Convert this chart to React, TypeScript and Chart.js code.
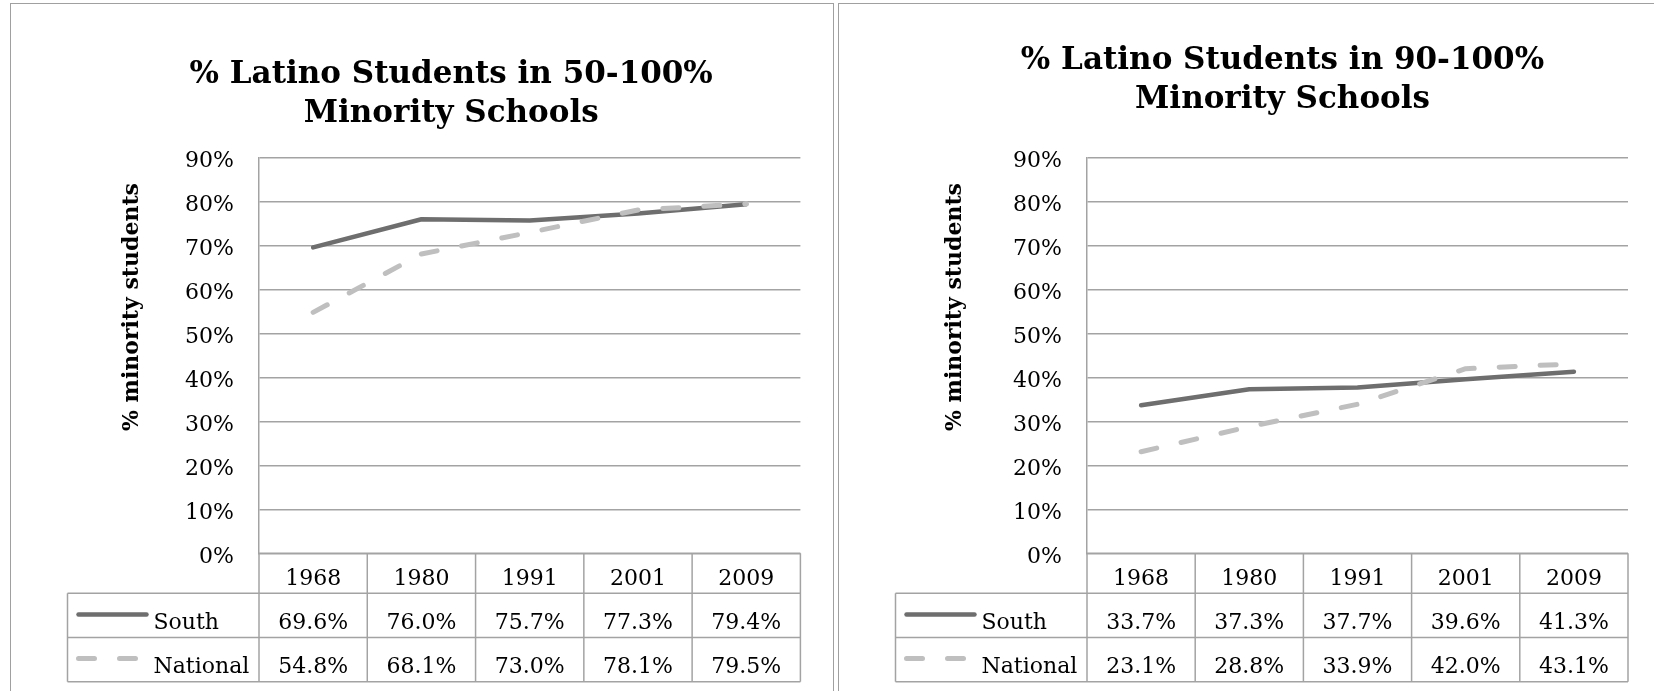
import React, { useEffect, useRef } from 'react';
import { Chart, registerables } from 'chart.js';

Chart.register(...registerables);

// ---------- data ----------
const years = ['1968', '1980', '1991', '2001', '2009'];
const seriesNames = ['South', 'National'];
const south50 = [69.6, 76.0, 75.7, 77.3, 79.4];
const national50 = [54.8, 68.1, 73.0, 78.1, 79.5];
const south90 = [33.7, 37.3, 37.7, 39.6, 41.3];
const national90 = [23.1, 28.8, 33.9, 42.0, 43.1];
const title50 = ['% Latino Students in 50-100%', 'Minority Schools'];
const title90 = ['% Latino Students in 90-100%', 'Minority Schools'];
const yAxisTitle = '% minority students';
const yMin = 0;
const yMax = 90;
const yStep = 10;

// ---------- styles ----------
const FONT = '"DejaVu Serif", "Liberation Serif", serif';
const GRID = '#a3a3a3';
const SOUTH_COLOR = '#6e6e6e';
const NATIONAL_COLOR = '#bfbfbf';

const axisTitlePlugin = {
  id: 'axisTitle',
  afterDraw(chart: any, _args: any, opts: any) {
    const ctx = chart.ctx;
    ctx.save();
    ctx.translate(opts.x, opts.y);
    ctx.rotate(-Math.PI / 2);
    ctx.font = `bold 22px ${FONT}`;
    ctx.fillStyle = '#000';
    ctx.textAlign = 'center';
    ctx.textBaseline = 'middle';
    ctx.fillText(opts.text, 0, 0);
    ctx.restore();
  },
};

const dataTablePlugin = {
  id: 'dataTable',
  afterDraw(chart: any, _args: any, opts: any) {
    const { ctx, chartArea: ca } = chart;
    const labels: string[] = chart.data.labels;
    const n = labels.length;
    const colW = (ca.right - ca.left) / n;
    const top = ca.bottom;
    const rb = [top + opts.headerH, top + opts.headerH + opts.rowH, top + opts.headerH + 2 * opts.rowH];
    const tableLeft = ca.left - opts.legendW;
    ctx.save();
    ctx.strokeStyle = GRID;
    ctx.lineWidth = 1.5;
    const line = (x1: number, y1: number, x2: number, y2: number) => {
      ctx.beginPath();
      ctx.moveTo(x1, y1);
      ctx.lineTo(x2, y2);
      ctx.stroke();
    };
    line(ca.left, top, ca.right, top);
    line(tableLeft, rb[0], ca.right, rb[0]);
    line(tableLeft, rb[1], ca.right, rb[1]);
    line(tableLeft, rb[2], ca.right, rb[2]);
    line(tableLeft, rb[0], tableLeft, rb[2]);
    for (let k = 0; k <= n; k++) {
      const x = ca.left + k * colW;
      line(x, top, x, rb[2]);
    }
    ctx.fillStyle = '#000';
    ctx.font = `22px ${FONT}`;
    ctx.textBaseline = 'alphabetic';
    ctx.textAlign = 'center';
    labels.forEach((lab, i) => {
      const cx = chart.scales.x.getPixelForValue(i);
      ctx.fillText(lab, cx, rb[0] - 8.5);
    });
    chart.data.datasets.forEach((ds: any, r: number) => {
      const rowBottom = rb[r + 1];
      const rowMid = rowBottom - opts.rowH / 2;
      ds.data.forEach((v: number, i: number) => {
        const cx = chart.scales.x.getPixelForValue(i);
        ctx.fillStyle = '#000';
        ctx.textAlign = 'center';
        ctx.fillText(v.toFixed(1) + '%', cx, rowBottom - 9);
      });
      // legend key
      ctx.save();
      ctx.strokeStyle = ds.borderColor;
      ctx.lineWidth = ds.borderWidth;
      ctx.lineCap = 'round';
      ctx.setLineDash(ds.borderDash || []);
      ctx.beginPath();
      ctx.moveTo(tableLeft + 11, rowMid - 1);
      ctx.lineTo(tableLeft + 79, rowMid - 1);
      ctx.stroke();
      ctx.restore();
      ctx.fillStyle = '#000';
      ctx.textAlign = 'left';
      ctx.fillText(ds.label, tableLeft + 86, rowBottom - 9);
    });
    ctx.restore();
  },
};

type PanelProps = {
  left: number;
  width: number;
  title: string[];
  south: number[];
  national: number[];
  padLeft: number;
  padRight: number;
  yWidth: number;
  titleTop: number;
  titleBottom: number;
  axisTitleX: number;
};

function Panel(p: PanelProps) {
  const ref = useRef<HTMLCanvasElement | null>(null);
  useEffect(() => {
    if (!ref.current) return;
    const chart = new Chart(ref.current, {
      type: 'line',
      data: {
        labels: years,
        datasets: [
          {
            label: seriesNames[0],
            data: p.south,
            borderColor: SOUTH_COLOR,
            borderWidth: 4.5,
            pointRadius: 0,
            borderCapStyle: 'round',
            borderJoinStyle: 'round',
            tension: 0,
            order: 1,
          },
          {
            label: seriesNames[1],
            data: p.national,
            borderColor: NATIONAL_COLOR,
            borderWidth: 5,
            borderDash: [16, 25],
            pointRadius: 0,
            borderCapStyle: 'round',
            borderJoinStyle: 'round',
            tension: 0,
            order: 0,
          },
        ],
      },
      options: {
        responsive: false,
        animation: false,
        devicePixelRatio: 1,
        layout: { padding: { left: p.padLeft, right: p.padRight, top: 0, bottom: 137.7 } },
        scales: {
          x: { type: 'category', display: false, offset: true },
          y: {
            min: yMin,
            max: yMax,
            ticks: {
              stepSize: yStep,
              callback: (v: any) => v + '%',
              font: { family: FONT, size: 22 },
              color: '#000',
              padding: 25,
              labelOffset: 4,
            },
            grid: { color: GRID, lineWidth: 1.5, drawTicks: false },
            border: { display: true, color: GRID, width: 1.5 },
            afterFit: (s: any) => {
              s.width = p.yWidth;
            },
          },
        },
        plugins: {
          legend: { display: false },
          tooltip: { enabled: false },
          title: {
            display: true,
            text: p.title,
            color: '#000',
            font: { family: FONT, size: 31, weight: 'bold', lineHeight: 39 / 31 },
            padding: { top: p.titleTop, bottom: p.titleBottom },
          },
          axisTitle: { text: yAxisTitle, x: p.axisTitleX, y: 307 },
          dataTable: { headerH: 40, rowH: 44.2, legendW: 191.5 },
        } as any,
      },
      plugins: [axisTitlePlugin, dataTablePlugin],
    } as any);
    return () => chart.destroy();
  }, []);
  return (
    <canvas
      ref={ref}
      width={p.width}
      height={691}
      style={{ position: 'absolute', left: p.left, top: 0, width: p.width, height: 691 }}
    />
  );
}

export default function App() {
  return (
    <div
      style={{
        position: 'fixed',
        left: 0,
        top: 0,
        width: 1654,
        height: 691,
        background: '#fff',
        overflow: 'hidden',
      }}
    >
      <div
        style={{
          position: 'absolute',
          left: 10,
          top: 3,
          width: 822,
          height: 720,
          border: '1.5px solid #a0a0a0',
        }}
      />
      <div
        style={{
          position: 'absolute',
          left: 838,
          top: 3,
          width: 840,
          height: 720,
          border: '1.5px solid #a0a0a0',
        }}
      />
      <Panel
        left={0}
        width={837}
        title={title50}
        south={south50}
        national={national50}
        padLeft={102}
        padRight={36.6}
        yWidth={157}
        titleTop={55}
        titleBottom={24.7}
        axisTitleX={132}
      />
      <Panel
        left={837}
        width={817}
        title={title90}
        south={south90}
        national={national90}
        padLeft={100}
        padRight={26}
        yWidth={150}
        titleTop={41}
        titleBottom={38.7}
        axisTitleX={118}
      />
    </div>
  );
}
